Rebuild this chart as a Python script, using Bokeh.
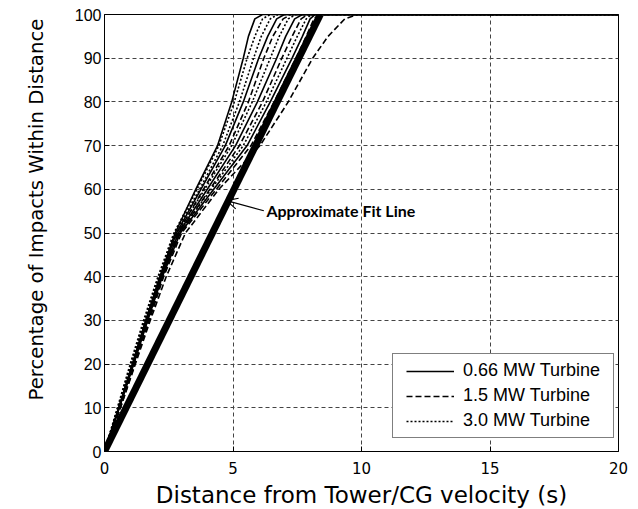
from bokeh.plotting import figure
from bokeh.models import Legend, LegendItem, Label, Arrow, OpenHead, Range1d, FixedTicker, Title
from bokeh.embed import file_html
from bokeh.resources import INLINE

# Percent levels at which each curve's distance is read
PCT = [0, 10, 20, 30, 40, 50, 60, 70, 80, 90, 95, 99, 100]
X_MAX = 20

# 0.66 MW turbine curves (distance in s at each percent level)
S1 = [0, 0.55, 1.08, 1.60, 2.15, 2.75, 3.55, 4.40, 4.95, 5.40, 5.60, 5.85, 6.15]
S2 = [0, 0.56, 1.10, 1.63, 2.18, 2.80, 3.75, 4.70, 5.40, 6.00, 6.35, 6.70, 7.00]
S3 = [0, 0.57, 1.12, 1.66, 2.22, 2.88, 4.00, 5.10, 5.95, 6.70, 7.05, 7.40, 7.70]
S4 = [0, 0.58, 1.14, 1.68, 2.25, 2.95, 4.25, 5.55, 6.45, 7.30, 7.70, 8.00, 8.20]
# 1.5 MW turbine curves
D1 = [0, 0.58, 1.12, 1.66, 2.22, 2.85, 3.85, 4.85, 5.60, 6.20, 6.55, 6.95, 7.25]
D2 = [0, 0.60, 1.15, 1.70, 2.26, 2.92, 4.10, 5.25, 6.15, 6.90, 7.30, 7.65, 7.90]
D3 = [0, 0.62, 1.18, 1.74, 2.30, 3.00, 4.35, 5.70, 6.60, 7.45, 7.85, 8.15, 8.35]
D4 = [0, 0.62, 1.20, 1.78, 2.40, 3.15, 4.45, 6.05, 7.15, 8.10, 8.70, 9.35, 9.85]
# 3.0 MW turbine curves
T1 = [0, 0.50, 1.00, 1.52, 2.08, 2.70, 3.60, 4.45, 5.05, 5.55, 5.85, 6.15, 6.45]
T2 = [0, 0.52, 1.02, 1.55, 2.10, 2.74, 3.70, 4.60, 5.25, 5.80, 6.10, 6.45, 6.75]
T3 = [0, 0.53, 1.05, 1.58, 2.14, 2.82, 3.90, 4.95, 5.75, 6.45, 6.80, 7.15, 7.45]
T4 = [0, 0.55, 1.08, 1.62, 2.18, 2.90, 4.15, 5.40, 6.30, 7.10, 7.50, 7.85, 8.05]

# Approximate fit line
FIT_X = [0, 8.4]
FIT_Y = [0, 100]

X_TICKS = [0, 5, 10, 15, 20]
Y_TICKS = [0, 10, 20, 30, 40, 50, 60, 70, 80, 90, 100]

GROUPS = [
    ("0.66 MW Turbine", [S1, S2, S3, S4], "solid"),
    ("1.5 MW Turbine", [D1, D2, D3, D4], "6 3"),
    ("3.0 MW Turbine", [T1, T2, T3, T4], "2 2"),
]

p = figure(width=638, height=508, output_backend="svg", toolbar_location=None,
           x_range=Range1d(0, X_MAX), y_range=Range1d(0, 100),
           min_border_left=104, min_border_right=20, min_border_top=14, min_border_bottom=57)
p.frame_width = 514
p.frame_height = 437

p.background_fill_color = "white"
p.border_fill_color = "white"
p.outline_line_color = "black"
p.outline_line_width = 1

# grid
for g in (p.xgrid, p.ygrid):
    g.grid_line_color = "#444444"
    g.grid_line_dash = "4 3"
    g.grid_line_width = 1
p.xaxis.ticker = FixedTicker(ticks=X_TICKS)
p.yaxis.ticker = FixedTicker(ticks=Y_TICKS)
p.xgrid.ticker = FixedTicker(ticks=X_TICKS)
p.ygrid.ticker = FixedTicker(ticks=Y_TICKS)

# axes
for ax in (p.xaxis, p.yaxis):
    ax.axis_line_color = "black"
    ax.major_tick_in = 5
    ax.major_tick_out = 0
    ax.minor_tick_line_color = None
    ax.major_tick_line_color = "black"
    ax.axis_label_text_font = "DejaVu Sans"
    ax.axis_label_text_font_style = "normal"
    ax.axis_label_text_color = "black"
    ax.major_label_text_color = "black"

p.yaxis.major_label_text_font = "Liberation Sans"
p.yaxis.major_label_text_font_size = "16px"
p.yaxis.major_label_standoff = 3

p.xaxis.major_label_text_font = "DejaVu Sans"
p.xaxis.major_label_text_font_size = "15px"
p.xaxis.major_label_standoff = 10
p.xaxis.axis_label = "Distance from Tower/CG velocity (s)"
p.xaxis.axis_label_text_font_size = "23px"
p.xaxis.axis_label_standoff = 5

# y-axis title, shifted upward like the original
ytitle = Title(text="Percentage of Impacts Within Distance", align="left", offset=51,
               vertical_align="top",
               text_font="DejaVu Sans", text_font_size="19.7px", text_font_style="normal",
               text_color="black", standoff=44)
p.add_layout(ytitle, "left")

# fit line
p.line(FIT_X, FIT_Y, line_color="black", line_width=7)

# curves
items = []
for name, curves, dash in GROUPS:
    first = None
    for c in curves:
        xs = list(c) + [X_MAX]
        ys = list(PCT) + [100]
        r = p.line(xs, ys, line_color="black", line_width=1.6, line_dash=dash)
        if first is None:
            first = r
    items.append(LegendItem(label=name, renderers=[first]))

legend = Legend(items=items)
legend.label_text_font = "Liberation Sans"
legend.label_text_font_size = "18px"
legend.label_text_color = "black"
legend.glyph_width = 48
legend.glyph_height = 20
legend.label_height = 20
legend.label_standoff = 9
legend.spacing = 4
legend.margin = 0
try:
    legend.padding = {"top": 6, "right": 13, "bottom": 6, "left": 13}
    LEG_W = 13 + 48 + 9 + 141 + 13
except Exception:
    legend.padding = 6
    LEG_W = 6 + 48 + 9 + 141 + 6
legend.location = (512 - LEG_W, 13)
legend.border_line_color = "black"
legend.border_line_width = 1
legend.background_fill_color = "white"
legend.background_fill_alpha = 1
p.add_layout(legend, "center")

# annotation
p.add_layout(Arrow(end=OpenHead(size=11, line_width=1.2, line_color="black"),
                   x_start=6.2, y_start=55.1, x_end=4.75, y_end=57.4,
                   line_color="black", line_width=1.2))
p.add_layout(Label(x=6.3, y=55.1, text="Approximate Fit Line",
                   text_font="Lato", text_font_style="bold", text_font_size="16px",
                   text_baseline="middle", text_color="black"))

open("out.html", "w").write(file_html(p, INLINE))
